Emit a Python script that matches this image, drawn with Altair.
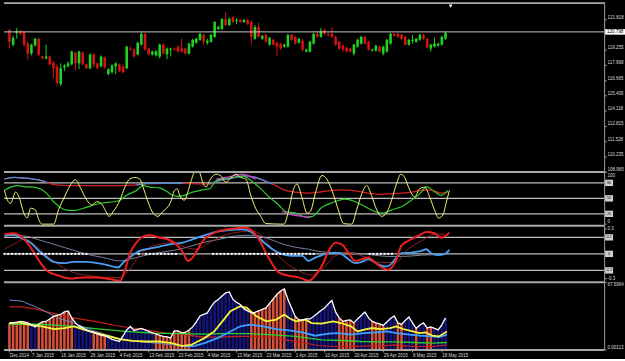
import altair as alt
import pandas as pd

FONT = "Liberation Sans"
FS = 4.5
LBL = "#dcdcdc"
AXC = "#a0a0a0"
SEP = "#a8a8a8"
LEVEL = "#bdbdbd"
W = 604
XDOM = [-0.133, 160.93]

# ---------------- main price panel (OHLC per bar) ----------------
opens = [120.96, 119.72, 120.72, 120.88, 120.80, 119.80, 118.97, 119.64, 120.22, 118.72,
         118.56, 118.72, 118.22, 117.89, 116.40, 117.81, 117.89, 118.06, 119.05, 118.14,
         119.05, 118.06, 117.73, 118.89, 118.14, 117.89, 118.64, 117.23, 117.39, 117.89,
         118.06, 117.89, 117.73, 119.39, 119.30, 118.89, 119.72, 120.63, 119.39, 118.89,
         118.81, 118.72, 119.72, 118.89, 119.30, 119.39, 119.55, 119.39, 119.39, 118.97,
         119.55, 119.88, 120.13, 120.55, 119.88, 119.97, 120.38, 121.05, 121.05, 121.88,
         121.38, 122.04, 121.71, 121.80, 121.63, 121.80, 121.63, 120.22, 121.21, 120.22,
         120.55, 119.72, 120.13, 119.88, 119.80, 119.55, 119.55, 120.55, 120.38, 119.88,
         120.05, 119.14, 119.14, 119.80, 120.63, 120.38, 120.96, 120.63, 120.63, 120.38,
         119.97, 119.64, 119.47, 119.39, 118.97, 119.55, 119.80, 120.38, 119.97, 119.22,
         119.22, 119.55, 118.97, 119.14, 119.80, 120.63, 120.63, 120.55, 120.38, 119.72,
         120.05, 119.97, 120.13, 120.55, 120.22, 119.39, 119.55, 119.64, 119.72, 120.22]
highs = [121.05, 120.47, 121.13, 120.96, 120.88, 119.97, 119.80, 120.30, 120.30, 118.81,
         119.72, 118.81, 118.31, 118.06, 118.14, 118.06, 118.31, 119.22, 119.14, 119.22,
         119.14, 118.14, 118.97, 118.97, 118.22, 118.81, 118.72, 117.73, 118.06, 118.22,
         118.14, 118.06, 119.64, 119.55, 119.39, 119.97, 120.80, 120.72, 119.47, 119.22,
         119.30, 119.80, 119.80, 119.47, 119.47, 119.47, 119.64, 120.22, 119.47, 119.88,
         120.22, 120.30, 120.72, 120.63, 120.22, 120.63, 121.71, 121.30, 121.96, 122.46,
         122.04, 122.13, 121.96, 121.88, 121.88, 121.88, 121.80, 121.38, 121.55, 120.55,
         120.63, 120.38, 120.22, 119.97, 119.88, 119.80, 120.63, 120.63, 120.47, 120.30,
         120.22, 119.39, 120.05, 120.72, 120.80, 121.13, 121.05, 120.72, 121.21, 120.47,
         120.05, 119.72, 119.55, 119.47, 119.80, 120.22, 120.47, 120.47, 120.05, 119.39,
         119.72, 119.64, 119.64, 120.22, 120.72, 120.72, 120.72, 120.63, 120.47, 120.22,
         120.55, 120.30, 120.63, 120.63, 120.30, 119.80, 120.30, 119.88, 120.47, 120.80]
lows = [119.39, 119.55, 120.22, 120.55, 119.55, 118.47, 118.81, 119.55, 118.72, 118.47,
        118.47, 117.97, 116.89, 116.23, 116.23, 117.48, 117.81, 117.97, 117.56, 117.64,
        117.97, 117.64, 117.64, 117.81, 117.64, 117.81, 117.64, 117.14, 117.31, 117.23,
        117.39, 117.31, 117.64, 119.22, 118.64, 118.81, 119.64, 119.22, 118.81, 118.81,
        118.72, 118.56, 118.89, 118.47, 118.72, 119.22, 119.05, 119.05, 118.89, 118.89,
        119.47, 119.80, 120.05, 119.72, 119.72, 119.88, 120.30, 120.96, 120.96, 121.30,
        121.30, 121.55, 121.46, 121.55, 121.55, 121.38, 119.72, 120.13, 120.30, 120.13,
        119.88, 119.64, 119.64, 118.72, 119.30, 119.47, 119.47, 120.05, 119.72, 119.80,
        119.14, 119.05, 119.05, 119.72, 120.30, 120.30, 120.55, 120.38, 120.30, 119.64,
        119.30, 119.14, 119.05, 119.05, 118.81, 119.47, 119.72, 119.72, 119.22, 119.14,
        119.14, 119.05, 118.81, 119.05, 119.72, 120.38, 120.30, 120.13, 119.64, 119.64,
        119.80, 119.88, 120.05, 120.13, 119.39, 119.14, 119.47, 119.55, 119.64, 120.13]
closes = [119.97, 120.30, 120.88, 120.63, 119.72, 118.97, 119.72, 120.22, 118.89, 118.56,
          118.72, 118.06, 117.73, 116.48, 117.73, 117.97, 118.14, 119.14, 118.14, 119.14,
          118.06, 117.73, 118.89, 118.06, 117.73, 118.72, 117.81, 117.64, 117.97, 118.14,
          117.48, 117.39, 119.55, 119.30, 118.72, 119.88, 120.63, 119.30, 118.89, 119.14,
          119.14, 119.72, 118.97, 119.39, 119.39, 119.30, 119.14, 119.14, 118.97, 119.80,
          120.13, 120.22, 120.63, 119.97, 120.05, 120.55, 121.63, 121.21, 121.88, 121.38,
          121.88, 121.63, 121.80, 121.63, 121.80, 121.46, 120.38, 121.21, 120.38, 120.47,
          119.97, 120.30, 119.72, 119.55, 119.39, 119.72, 120.55, 120.13, 119.80, 120.22,
          119.30, 119.30, 119.97, 120.63, 120.38, 120.88, 120.63, 120.55, 120.38, 119.72,
          119.39, 119.30, 119.14, 119.14, 119.72, 120.13, 120.38, 119.80, 119.30, 119.30,
          119.64, 119.14, 119.55, 120.13, 120.63, 120.47, 120.38, 120.22, 119.72, 120.13,
          120.13, 120.22, 120.55, 120.22, 119.47, 119.72, 119.80, 119.80, 120.38, 120.72]
current_price = 120.798
price_ticks = [121.818, 119.255, 117.968, 116.665, 115.406, 114.118, 112.815, 111.528, 110.235, 108.965]
shift_marker = [120.4]

date_tick_idx = [0, 6, 14, 22, 30, 38, 46, 54, 62, 70, 78, 86, 94, 102, 110, 118]
date_tick_labels = ["Dec 2014", "7 Jan 2015", "16 Jan 2015", "26 Jan 2015", "4 Feb 2015",
                    "13 Feb 2015", "23 Feb 2015", "4 Mar 2015", "13 Mar 2015", "23 Mar 2015",
                    "1 Apr 2015", "10 Apr 2015", "20 Apr 2015", "29 Apr 2015", "8 May 2015",
                    "18 May 2015"]

# ---------------- panel 2 (0..100 oscillators) ----------------
osc_levels = [80, 50, 20]
osc_top_label = [100]
osc_bottom_label = [0]
osc_fast = [(0, 65.4), (0.8, 46.5), (1.6, 40.2), (3.0, 62.2), (3.9, 52.8), (5.2, 21.3), (6.1, 11.9),
            (7.0, 30.8), (8.3, 27.6), (9.2, 8.8), (10.1, 0), (13.2, 0), (14.5, 27.6), (15.9, 49.6),
            (17.6, 74.8), (19.0, 86.1), (20.3, 71.6), (22.1, 46.5), (23.4, 37.1), (24.8, 43.4),
            (26.1, 39.0), (27.0, 27.6), (28.1, 15.1), (29.2, 24.5), (31.0, 46.5), (32.3, 71.7),
            (33.6, 87.4), (35.0, 90.5), (36.3, 87.4), (37.2, 71.7), (38.5, 43.4), (39.9, 21.3),
            (41.2, 15.1), (42.5, 24.5), (43.9, 33.9), (44.8, 46.5), (45.6, 65.4), (46.3, 68.5),
            (47.2, 52.8), (48.3, 46.5), (49.2, 62.2), (50.1, 84.2), (51.0, 100), (52.3, 100),
            (53.2, 81.1), (54.1, 71.7), (55.0, 84.2), (56.8, 96.8), (58.1, 93.7), (59.4, 81.1),
            (60.8, 90.5), (62.1, 96.8), (63.4, 90.5), (64.8, 87.4), (66.1, 55.9), (67.4, 30.8),
            (68.8, 15.1), (70.1, 1.2), (75.0, 0), (76.3, 27.6), (77.6, 68.5), (78.5, 77.9),
            (79.9, 50.0), (81.2, 21.3), (82.1, 24.5), (83.4, 59.0), (85.2, 94.3), (86.5, 87.4),
            (87.9, 65.4), (89.6, 27.6), (91.0, 1.2), (93.2, 0), (94.5, 27.6), (95.9, 59.0),
            (97.2, 74.8), (98.5, 55.9), (99.9, 27.6), (101.2, 15.1), (102.5, 21.3), (103.9, 46.5),
            (105.2, 78.0), (106.4, 96.8), (107.4, 90.5), (108.8, 65.4), (110.1, 52.8), (111.4, 68.5),
            (112.8, 71.7), (114.1, 52.8), (115.4, 27.6), (116.5, 11.9), (117.7, 18.2), (118.5, 40.2),
            (119.4, 65.4)]
osc_green = [(0, 65.4), (1.6, 71.7), (3.4, 74.8), (5.2, 72.9), (7.9, 71.7), (9.6, 68.5), (11.4, 59.1),
             (13.2, 43.4), (14.5, 35.2), (16.3, 27.6), (18.5, 26.4), (21.2, 30.8), (23.9, 37.1),
             (26.5, 41.5), (29.2, 43.4), (31.0, 46.5), (32.8, 55.9), (35.4, 65.4), (37.2, 74.8),
             (39.0, 71.7), (41.6, 70.4), (43.4, 64.1), (45.2, 55.9), (46.5, 54.0), (48.3, 55.9),
             (50.5, 62.2), (53.2, 66.6), (55.0, 68.5), (56.8, 84.2), (58.5, 87.4), (61.2, 90.5),
             (63.9, 93.7), (65.6, 87.4), (68.3, 71.7), (71.0, 52.8), (73.6, 37.1), (75.4, 24.5),
             (78.1, 21.3), (80.8, 13.8), (82.5, 14.5), (85.2, 32.7), (87.9, 41.5), (91.4, 48.4),
             (94.1, 43.4), (96.8, 33.9), (99.4, 24.5), (101.6, 21.3), (103.9, 27.6), (106.5, 33.9),
             (109.2, 46.5), (111.9, 62.2), (113.2, 72.9), (115.0, 65.4), (117.2, 55.9), (119.0, 65.4)]
osc_signal = [(0, 87.4), (2.5, 90.5), (5.2, 89.3), (8.8, 86.1), (11.4, 81.1), (13.2, 76.7), (17.6, 74.8),
              (22.1, 74.8), (26.5, 74.8), (31.0, 74.8), (35.4, 76.0), (38.1, 78.6), (42.5, 79.2),
              (47.9, 79.2), (53.2, 78.0), (55.0, 78.0), (57.6, 84.2), (62.1, 90.5), (64.8, 93.7),
              (67.4, 90.5), (70.1, 83.0), (71.9, 78.0), (73.6, 71.7), (75.4, 65.4), (78.1, 62.2),
              (81.6, 60.3), (85.2, 62.8), (87.9, 65.4), (90.5, 66.6), (93.2, 65.4), (95.9, 62.2),
              (98.5, 59.1), (101.2, 57.8), (103.9, 59.1), (106.5, 60.3), (109.2, 62.2), (111.9, 65.4),
              (113.6, 66.6), (115.4, 64.1), (117.2, 60.3), (119.0, 62.2)]
signal_blue_ranges = [(0, 11.4), (35.4, 47.9), (55.0, 71.9)]
osc_magenta_a = [(56.8, 87.4), (60.3, 91.8), (63.9, 96.8), (66.1, 91.8), (67.4, 87.4)]
osc_magenta_b = [(74.5, 24.5), (77.2, 18.2), (79.9, 15.1), (82.1, 12.5)]

# ---------------- panel 3 (zero-centred) ----------------
macd_levels = [0.2, 0.0, -0.2]
macd_level_labels = ["0.2", "0", "-0.2"]
macd_edge_ticks = [0.3, -0.3]
macd_red = [(0, 0.237), (2.5, 0.249), (4.3, 0.217), (6.1, 0.136), (7.9, 0.016), (9.6, -0.105), (11.4, -0.205),
            (14.1, -0.257), (17.6, -0.298), (21.2, -0.285), (24.8, -0.285), (28.3, -0.306), (31.0, -0.326),
            (32.3, -0.205), (33.6, -0.004), (35.4, 0.136), (37.2, 0.208), (39.0, 0.225), (41.6, 0.196),
            (44.3, 0.168), (46.1, 0.116), (47.9, 0.016), (49.2, -0.085), (50.5, -0.045), (51.9, 0.056),
            (53.2, 0.156), (55.0, 0.225), (57.6, 0.277), (61.2, 0.305), (64.8, 0.317), (66.5, 0.277),
            (68.3, 0.176), (70.1, 0.016), (71.9, -0.125), (73.6, -0.225), (76.3, -0.265), (79.0, -0.285),
            (81.6, -0.326), (83.4, -0.265), (85.2, -0.145), (87.0, 0.036), (88.8, 0.136), (90.5, 0.116),
            (92.3, 0.016), (94.1, -0.085), (95.9, -0.065), (97.6, -0.045), (99.4, -0.105), (101.2, -0.165),
            (103.0, -0.193), (104.8, -0.105), (106.5, 0.096), (108.3, 0.156), (111.0, 0.217), (113.2, 0.265),
            (115.4, 0.249), (117.2, 0.196), (119.4, 0.257)]
macd_blue = [(0, 0.217), (2.5, 0.237), (4.3, 0.196), (7.0, 0.136), (8.8, 0.056), (11.4, -0.045), (13.2, -0.097),
             (15.9, -0.113), (18.5, -0.097), (22.1, -0.097), (24.8, -0.113), (27.4, -0.133), (30.5, -0.165),
             (31.9, -0.105), (33.6, -0.045), (36.3, 0.036), (39.0, 0.064), (41.6, 0.088), (44.3, 0.116),
             (47.9, 0.136), (50.5, 0.176), (53.2, 0.217), (56.8, 0.265), (60.3, 0.289), (63.9, 0.297),
             (66.5, 0.257), (69.2, 0.156), (71.9, 0.056), (74.5, -0.004), (77.2, -0.024), (79.9, -0.024),
             (81.6, -0.085), (83.4, -0.045), (85.2, -0.016), (87.0, 0.008), (88.8, 0.016), (90.5, -0.004),
             (92.3, -0.065), (94.1, -0.113), (95.9, -0.097), (97.6, -0.065), (99.4, -0.105), (102.1, -0.153),
             (103.4, -0.137), (105.2, -0.045), (106.5, 0.008), (109.2, 0.016), (111.9, 0.036), (113.2, 0.056),
             (114.5, 0.008), (116.3, -0.016), (118.1, -0.004), (119.4, 0.048)]
macd_gray = [(0, 0.225), (5.2, 0.217), (8.8, 0.176), (13.2, 0.116), (17.6, 0.056), (22.1, -0.004), (26.5, -0.045),
             (31.0, -0.085), (33.6, -0.065), (37.2, -0.024), (41.6, 0.016), (46.1, 0.048), (49.6, 0.088),
             (53.2, 0.136), (57.6, 0.176), (62.1, 0.217), (66.5, 0.225), (70.1, 0.196), (73.6, 0.136),
             (77.2, 0.088), (81.6, 0.056), (85.2, 0.024), (88.8, 0.016), (94.1, 0.008), (99.4, -0.016),
             (103.0, -0.032), (106.5, -0.032), (111.9, -0.016), (117.2, -0.004), (119.4, 0.008)]
macd_red_thin = [(0, 0.056), (2.5, 0.116), (5.2, 0.176), (7.9, 0.116), (11.4, -0.024), (15.0, -0.145),
                 (18.5, -0.225), (23.0, -0.265), (27.4, -0.285), (31.0, -0.285), (33.6, -0.185), (35.4, -0.065),
                 (38.1, 0.056), (41.6, 0.116), (45.2, 0.136), (48.8, 0.076), (51.4, 0.056), (55.0, 0.136),
                 (58.5, 0.217), (63.0, 0.265), (66.5, 0.277), (69.2, 0.217), (71.9, 0.056), (75.4, -0.105),
                 (79.0, -0.205), (82.5, -0.257), (85.2, -0.185), (88.8, -0.024), (92.3, 0.016), (95.9, -0.024),
                 (101.2, -0.105), (104.8, -0.105), (108.3, 0.056), (111.9, 0.156), (115.4, 0.237), (118.1, 0.237)]
zero_dot_runs = [(0, 22), (36, 36), (38, 46), (56, 83), (98, 104)]

# ---------------- panel 4 (histogram + lines) ----------------
hist = [27, 27, 27.5, 28.5, 28, 27, 25, 23, 26, 28,
        28.5, 31, 33.5, 34.5, 35.5, 38, 39, 32, 27, 24,
        22, 20, 18.5, 17.5, 16, 14.5, 14, 12.5, 10.5, 9.5,
        8.5, 14, 20, 23.5, 19.5, 20.5, 21.5, 20, 18.5, 17,
        16, 14.5, 13.5, 13, 12, 19, 19, 17, 17.5, 20,
        23, 28, 34, 35.5, 37, 43, 48, 50.5, 54, 57,
        58, 50.5, 47.5, 45.5, 41, 39, 37, 37.5, 39, 40.5,
        42, 46.5, 51, 55.5, 59, 61, 50.5, 42, 33.5, 30,
        30, 31, 31, 33.5, 36.5, 39.5, 42, 46, 49.5, 38,
        32, 28.5, 29.5, 30, 27, 31, 34.5, 38, 32, 28.5,
        27, 26, 24.5, 28, 31.5, 34, 27, 25.5, 29.5, 33,
        27, 21.5, 25, 27, 22, 23, 21.5, 20, 25, 32]
hist_colors = ("rrrrrr" "bb" "rrrrrrrrrr" "bbbbb" "rrrr" "bbbbbbbbbbbbb" "rrrrrrrrrr"
               "bbbbbbbbbbbbbbbb" "rrrrrrrrrr" "bb" "rrrr" "bbbbbbbb" "rrrrr" "bbbb" "rrrr"
               "bbb" "rr" "bbb" "r" "bb" "rr" "bbbb")
hist_top_tick = [67.5964]
hist_bottom_tick = [0.00113]
p4_yellow = [(0, 26.9), (2.5, 27.6), (5.2, 25.2), (8.8, 23.6), (12.3, 20.9), (15.0, 21.9), (17.6, 23.6),
             (20.3, 20.2), (23.0, 17.5), (26.5, 14.2), (30.1, 10.8), (33.6, 9.1), (37.2, 8.4), (40.8, 8.4),
             (44.3, 6.8), (47.0, 4.1), (49.6, 5.1), (51.4, 8.4), (53.2, 11.8), (55.9, 18.5), (58.5, 30.3),
             (60.3, 38.7), (63.0, 43.7), (64.8, 42.0), (67.4, 33.6), (70.1, 28.6), (72.8, 30.3), (75.0, 35.3),
             (76.3, 32.0), (78.1, 28.6), (80.8, 30.3), (82.5, 26.9), (85.2, 26.2), (88.3, 28.6), (90.5, 26.9),
             (93.2, 23.6), (95.0, 18.5), (96.8, 20.2), (99.0, 21.9), (101.2, 20.9), (103.9, 21.9),
             (105.6, 23.6), (107.4, 20.9), (110.1, 18.5), (111.9, 16.8), (113.6, 17.5), (115.4, 14.2),
             (117.2, 13.5), (119.4, 18.5)]
p4_blue = [(0, 49.8), (3.4, 48.8), (8.8, 40.4), (13.2, 32.0), (17.6, 26.9), (22.1, 20.2), (26.5, 15.2),
           (31.0, 10.1), (35.4, 8.4), (39.9, 6.8), (44.3, 5.1), (47.9, 3.4), (50.5, 4.1), (53.2, 6.8),
           (56.8, 11.8), (60.3, 18.5), (63.0, 23.6), (65.6, 25.2), (69.2, 23.6), (72.8, 20.9), (76.3, 19.5),
           (79.9, 17.5), (83.4, 14.2), (87.0, 16.2), (89.6, 16.8), (93.2, 15.2), (96.8, 16.8), (100.3, 17.5),
           (103.0, 18.5), (105.6, 16.8), (109.2, 15.2), (111.9, 14.2), (115.4, 13.5), (117.2, 12.8),
           (119.4, 15.2)]
p4_red = [(0, 43.0), (3.4, 43.0), (7.0, 41.0), (11.4, 37.0), (15.9, 33.0), (20.3, 30.3), (24.8, 27.6),
          (29.2, 24.2), (33.6, 21.9), (38.1, 19.5), (42.5, 16.8), (47.0, 15.2), (49.6, 14.2), (53.2, 12.8),
          (57.6, 12.8), (62.1, 13.5), (66.5, 13.5), (71.0, 12.8), (75.4, 10.1), (79.9, 7.4), (84.3, 4.4),
          (88.8, 3.4), (94.1, 3.4), (97.6, 4.1), (102.1, 4.1), (104.8, 5.1), (110.1, 3.4), (115.4, 3.4),
          (119.4, 5.1)]
p4_green = [(0, 25.2), (5.2, 25.9), (10.5, 25.2), (17.6, 23.6), (24.8, 20.9), (31.9, 18.5), (39.0, 16.8),
            (46.1, 16.2), (53.2, 15.8), (58.5, 16.2), (65.6, 16.2), (71.0, 15.2), (78.1, 13.5), (85.2, 10.1),
            (90.5, 9.4), (95.9, 8.4), (101.2, 8.1), (105.6, 8.1), (110.1, 7.4), (115.4, 6.8), (119.4, 7.4)]

# =====================================================================
XS = alt.Scale(domain=XDOM, nice=False, zero=False)
X_NA = alt.X("i:Q", scale=XS, axis=None)
BOX_WIDE = "M-1,-0.28H1V0.28H-1Z"
BOX_SMALL = "M-1,-0.8H1V0.8H-1Z"
one = pd.DataFrame({"a": [0]})


def Y(field, ys):
    return alt.Y(field, scale=ys, axis=None)


def pdf(pairs):
    return pd.DataFrame(pairs, columns=["i", "v"])


def line(pairs, color, width, ys, interp="monotone"):
    return alt.Chart(pdf(pairs)).mark_line(color=color, strokeWidth=width, interpolate=interp).encode(
        x=X_NA, y=Y("v:Q", ys))


def seg_line(rows, color, width, ys, interp="monotone"):
    df = pd.DataFrame(rows, columns=["i", "v", "seg"])
    return alt.Chart(df).mark_line(color=color, strokeWidth=width, interpolate=interp).encode(
        x=X_NA, y=Y("v:Q", ys), detail="seg:N")


def hsep(y):
    return alt.Chart(one).mark_rule(color=SEP, strokeWidth=2).encode(y=alt.value(y))


def vdomain():
    return alt.Chart(one).mark_rule(color=AXC, strokeWidth=1).encode(x=alt.value(604.5))


def level_rules(levels, ys):
    return alt.Chart(pd.DataFrame({"v": levels})).mark_rule(color=LEVEL, strokeWidth=1.2).encode(y=Y("v:Q", ys))


def level_boxes(levels, labels, ys):
    df = pd.DataFrame({"v": levels, "t": labels})
    box = alt.Chart(df).mark_point(shape=BOX_SMALL, size=64, filled=True, color="#d0d0d0", opacity=1).encode(
        x=alt.value(609), y=Y("v:Q", ys))
    txt = alt.Chart(df).mark_text(font=FONT, fontSize=3.8, color="#000000").encode(
        x=alt.value(609), y=Y("v:Q", ys), text="t:N")
    return [box, txt]


def right_labels(values, labels, ys, baseline="middle"):
    df = pd.DataFrame({"v": values, "t": labels})
    ticks = alt.Chart(df).mark_rule(color=AXC, strokeWidth=1).encode(
        x=alt.value(604), x2=alt.value(606.5), y=Y("v:Q", ys))
    txt = alt.Chart(df).mark_text(align="left", baseline=baseline, font=FONT, fontSize=FS, color=LBL).encode(
        x=alt.value(607.5), y=Y("v:Q", ys), text="t:N")
    return [ticks, txt]


# ---------- panel 1 ----------
bars = pd.DataFrame({"i": list(range(len(opens))), "open": opens, "high": highs, "low": lows, "close": closes})
bars["col"] = ["#1fd41f" if c >= o else "#d41414" for o, c in zip(opens, closes)]
ys1 = alt.Scale(domain=[108.965, 123.31], nice=False, zero=False)
cdir = alt.Color("col:N", scale=None)

wicks = alt.Chart(bars).mark_rule(strokeWidth=1).encode(x=X_NA, y=Y("low:Q", ys1), y2="high:Q", color=cdir)
bodies = alt.Chart(bars).mark_bar(size=2.6).encode(x=X_NA, y=Y("open:Q", ys1), y2="close:Q", color=cdir)
cp = pd.DataFrame({"p": [current_price]})
cp_rule = alt.Chart(cp).mark_rule(color="#c8c8c8", strokeWidth=1).encode(y=Y("p:Q", ys1))
cp_box = alt.Chart(cp).mark_point(shape=BOX_WIDE, size=400, filled=True, color="#ffffff", opacity=1).encode(
    x=alt.value(615), y=Y("p:Q", ys1))
cp_txt = alt.Chart(cp).mark_text(font=FONT, fontSize=FS, color="#000000").encode(
    x=alt.value(615), y=Y("p:Q", ys1), text=alt.Text("p:Q", format=".3f"))
marker = alt.Chart(pd.DataFrame({"i": shift_marker})).mark_point(
    shape="triangle-down", filled=True, color="#ffffff", size=14, opacity=1).encode(x=X_NA, y=alt.value(4))

p1 = alt.layer(
    wicks, bodies, cp_rule, vdomain(),
    *right_labels(price_ticks, [f"{v:.3f}" for v in price_ticks], ys1, "bottom"),
    cp_box, cp_txt, marker, hsep(1),
).properties(width=W, height=171)

# ---------- panel 2 ----------
ys2 = alt.Scale(domain=[-3, 101], nice=False, zero=False)
blue_rows = [(i, v, n) for n, (a, b) in enumerate(signal_blue_ranges) for (i, v) in osc_signal if a <= i <= b]
mag_rows = [(i, v, "a") for i, v in osc_magenta_a] + [(i, v, "b") for i, v in osc_magenta_b]
p2 = alt.layer(
    level_rules(osc_levels, ys2),
    line(osc_signal, "#d42020", 1.3, ys2),
    seg_line(blue_rows, "#4a90e0", 1.3, ys2),
    line(osc_green, "#2fcc2f", 1.2, ys2),
    seg_line(mag_rows, "#d23cd2", 1.3, ys2),
    line(osc_fast, "#f2f27a", 1.0, ys2),
    vdomain(),
    *right_labels(osc_top_label, [str(v) for v in osc_top_label], ys2, "top"),
    *right_labels(osc_bottom_label, [str(v) for v in osc_bottom_label], ys2, "bottom"),
    *level_boxes(osc_levels, [str(v) for v in osc_levels], ys2),
    hsep(0),
).properties(width=W, height=54)

# ---------- panel 3 ----------
ys3 = alt.Scale(domain=[-0.345, 0.341], nice=False, zero=False)
dots = pd.DataFrame({"i": [k for a, b in zero_dot_runs for k in range(a, b + 1)]})
dots["v"] = 0.0
dot_layer = alt.Chart(dots).mark_square(size=4, color="#ffffff", opacity=1).encode(x=X_NA, y=Y("v:Q", ys3))
p3 = alt.layer(
    level_rules(macd_levels, ys3),
    line(macd_gray, "#8090b0", 0.9, ys3),
    line(macd_red_thin, "#a02424", 0.9, ys3),
    line(macd_blue, "#4aa0f0", 1.8, ys3),
    line(macd_red, "#f01e1e", 2.0, ys3),
    dot_layer,
    vdomain(),
    *right_labels(macd_edge_ticks, [f"{v:.1f}" for v in macd_edge_ticks], ys3, "middle"),
    *level_boxes(macd_levels, macd_level_labels, ys3),
    hsep(0),
).properties(width=W, height=57)

# ---------- panel 4 ----------
ys4 = alt.Scale(domain=[0.00113, 67.5964], nice=False, zero=False)
hdf = pd.DataFrame({"i": list(range(len(hist))), "v": hist})
hdf["col"] = ["#d4503a" if c == "r" else "#14147a" for c in hist_colors]
hbars = alt.Chart(hdf).mark_bar(size=2.6).encode(x=X_NA, y=Y("v:Q", ys4), color=alt.Color("col:N", scale=None))
white = alt.Chart(hdf).mark_line(color="#ffffff", strokeWidth=1.3).encode(x=X_NA, y=Y("v:Q", ys4))
blue_thin = [p for p in p4_blue if p[0] <= 47.9]
blue_thick = [p for p in p4_blue if p[0] >= 47.9]
dates = pd.DataFrame({"i": date_tick_idx, "t": date_tick_labels})
date_ticks = alt.Chart(dates).mark_rule(color=AXC, strokeWidth=1).encode(
    x=X_NA, y=alt.value(68), y2=alt.value(70.5))
date_text = alt.Chart(dates).mark_text(align="left", baseline="top", font=FONT, fontSize=FS, color=LBL,
                                        dx=0.5).encode(x=X_NA, y=alt.value(71.5), text="t:N")
p4 = alt.layer(
    hbars,
    line(p4_red, "#c81e1e", 1.2, ys4, "linear"),
    line(p4_green, "#2cd02c", 1.3, ys4, "linear"),
    line(blue_thin, "#6c88c0", 1.0, ys4, "linear"),
    line(blue_thick, "#3aa0ff", 1.8, ys4, "linear"),
    line(p4_yellow, "#f5f53a", 1.8, ys4, "linear"),
    white,
    vdomain(),
    *right_labels(hist_top_tick, [str(v) for v in hist_top_tick], ys4, "top"),
    *right_labels(hist_bottom_tick, [str(v) for v in hist_bottom_tick], ys4, "bottom"),
    hsep(0), hsep(68),
    date_ticks, date_text,
).properties(width=W, height=68)

chart = alt.vconcat(p1, p2, p3, p4, spacing=0, bounds="flush").properties(
    background="#000000",
    padding={"left": 0, "top": 0, "right": 0, "bottom": 0},
    autosize=alt.AutoSizeParams(type="pad"),
).configure_view(strokeWidth=0)

chart.save("out.html", embed_options={"renderer": "svg", "actions": False})
